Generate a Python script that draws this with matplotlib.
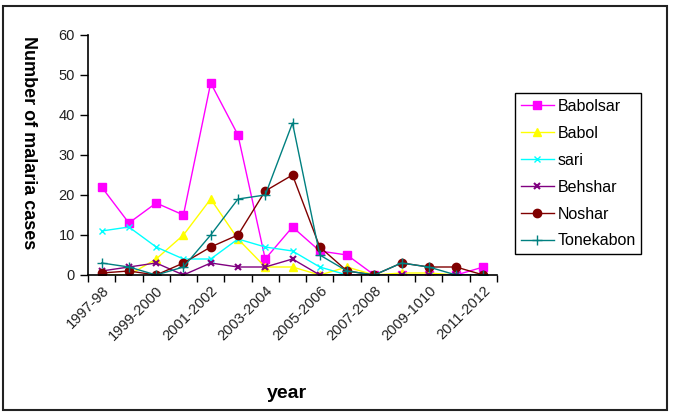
import numpy as np
import matplotlib
matplotlib.use('Agg')
import matplotlib.pyplot as plt
from matplotlib.patches import Rectangle

plt.rcParams['font.family'] = ['Liberation Sans', 'DejaVu Sans']

# seasons (15 categories, every other one labelled)
years = ['1997-98', '1998-99', '1999-2000', '2000-2001', '2001-2002', '2002-2003',
         '2003-2004', '2004-2005', '2005-2006', '2006-2007', '2007-2008', '2008-2009',
         '2009-1010', '2010-2011', '2011-2012']

babolsar = [22, 13, 18, 15, 48, 35, 4, 12, 6, 5, 0, 0, 0, 0, 2]
babol = [0, 0, 4, 10, 19, 9, 2, 2, 0, 2, 0, 0.5, 0.5, 0, 0]
sari = [11, 12, 7, 4, 4, 9, 7, 6, 2, 0, 0, 0, 0, 0, 0]
behshar = [1, 2, 3, 0, 3, 2, 2, 4, 0, 0, 0, 0, 0, 0, 0]
noshar = [0.5, 1, 0, 3, 7, 10, 21, 25, 7, 1, 0, 3, 2, 2, 0]
tonekabon = [3, 2, 0, 2, 10, 19, 20, 38, 5, 1, 0, 3, 2, 0, 0]

fig = plt.figure(figsize=(6.75, 4.16), dpi=100)
ax = fig.add_axes([88/675, 1 - 275/416, 409/675, 240/416])

# outer frame of the chart area
fig.patches.append(Rectangle((3/675, 6/416), 664/675, 404/416, transform=fig.transFigure,
                             fill=False, edgecolor='#222222', linewidth=1.5))

x = np.arange(len(years))
ax.plot(x, babolsar, color='#FF00FF', marker='s', ms=6, lw=1, label='Babolsar')
ax.plot(x, babol, color='#FFFF00', marker='^', ms=6, lw=1, label='Babol')
ax.plot(x, sari, color='#00FFFF', marker='x', ms=5, lw=1, label='sari')
ax.plot(x, behshar, color='#800080', marker='x', ms=4, mew=1.5, lw=1, label='Behshar')
ax.plot(x, noshar, color='#800000', marker='o', ms=6, lw=1, label='Noshar')
ax.plot(x, tonekabon, color='#008080', marker='+', ms=7, lw=1, label='Tonekabon')

ax.set_xlim(-0.5, len(years) - 0.5)
ax.set_ylim(0, 60)
ax.set_yticks(range(0, 61, 10))
ax.tick_params(axis='y', labelsize=10.5, labelcolor='#222222', length=6, width=1, direction='out')

ax.set_xticks(x[::2])
ax.set_xticklabels(years[::2], rotation=45, ha='right', rotation_mode='anchor',
                   fontsize=10.5, color='#222222')
ax.set_xticks(np.arange(-0.5, len(years), 1), minor=True)
ax.tick_params(axis='x', which='major', length=0, pad=6)
ax.tick_params(axis='x', which='minor', length=5, width=1, direction='out')

for s in ['top', 'right']:
    ax.spines[s].set_visible(False)
for s in ['left', 'bottom']:
    ax.spines[s].set_linewidth(1.2)

fig.text(28/675, 1 - 143/416, 'Number of malaria cases', rotation=-90, ha='center', va='center',
         fontsize=13, fontweight='bold')
fig.text(287/675, 1 - 393/416, 'year', ha='center', va='center', fontsize=14, fontweight='bold')

fig.legend(loc='upper left', bbox_to_anchor=(515/675, 1 - 93/416), fontsize=11.5,
           frameon=True, fancybox=False, edgecolor='black', framealpha=1,
           labelspacing=0.75, handlelength=2.1, handletextpad=0.2, borderpad=0.35,
           borderaxespad=0)

fig.savefig('out.png', dpi=100)
